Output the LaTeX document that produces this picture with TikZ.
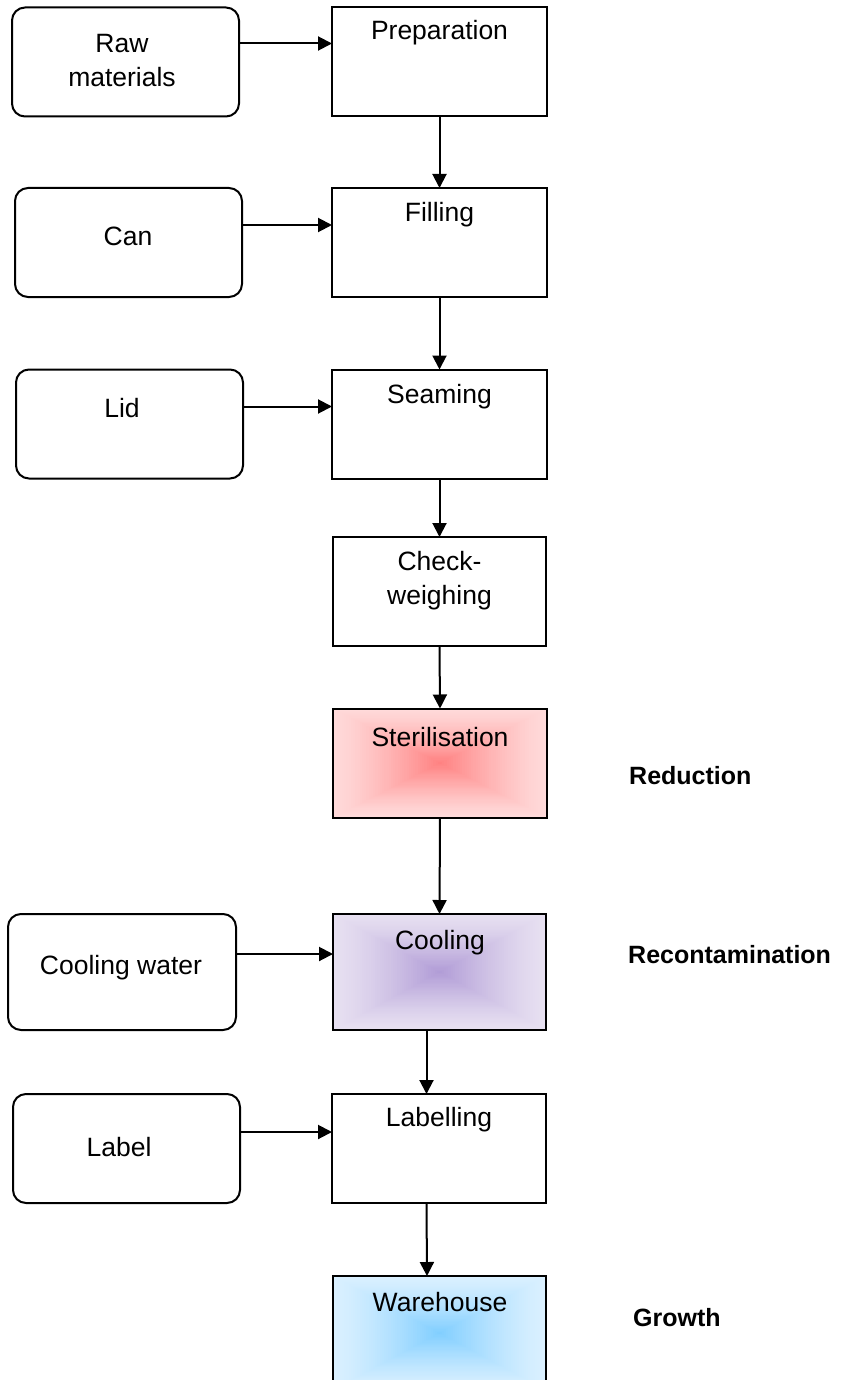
\documentclass[tikz,border=0pt]{standalone}
\usepackage{fontspec}
\setmainfont{Liberation Sans}
\usetikzlibrary{arrows.meta,calc,backgrounds}
\begin{document}
\begin{tikzpicture}[x=1pt,y=-1pt,
  proc/.style={draw=black,line width=2pt,inner sep=0pt,outer sep=0pt,minimum width=214pt,minimum height=109pt},
  inbox/.style={draw=black,line width=2pt,inner sep=0pt,outer sep=0pt,rounded corners=13pt,minimum width=227pt,minimum height=109pt},
  txt/.style={inner sep=0pt,font=\fontsize{26.5}{34}\selectfont,align=center},
  side/.style={inner sep=0pt,anchor=west,font=\fontsize{25}{30}\selectfont\bfseries},
  arr/.style={line width=2pt,-{Triangle[length=14pt,width=14pt]}}]
\useasboundingbox (0,0) rectangle (845,1380);
\clip (0,0) rectangle (845,1380);
% colours
\definecolor{redin}{HTML}{FF8080}
\definecolor{redout}{HTML}{FFDADA}
\definecolor{purin}{HTML}{B09BD6}
\definecolor{purout}{HTML}{E7E0F1}
\definecolor{bluin}{HTML}{80CEFF}
\definecolor{bluout}{HTML}{DAF0FF}
% input boxes
\node[inbox] (raw) at (125.5,62) {};
\node[txt] (rawt) at (122,61) {Raw\\materials};
\node[inbox] (can) at (128.5,242.5) {};
\node[txt] (cant) at (128,236) {Can};
\node[inbox] (lid) at (129.5,424) {};
\node[txt] (lidt) at (122,408) {Lid};
\node[inbox,minimum width=228pt,minimum height=116pt] (cw) at (122,972) {};
\node[txt] (cwt) at (121,968) {Cooling water};
\node[inbox] (lab) at (126.5,1148.5) {};
\node[txt] (labt) at (119,1147) {Label};
% process boxes
\node[proc,minimum width=215pt] (prep) at (439.5,62) {};
\node[txt] (prept) at (439.5,33) {Preparation};
\node[proc,minimum width=215pt] (fill) at (439.5,242.5) {};
\node[txt] (fillt) at (439.5,215) {Filling};
\node[proc,minimum width=215pt] (seam) at (439.5,424) {};
\node[txt] (seamt) at (439.5,397) {Seaming};
\node[proc,minimum width=213pt] (chk) at (439.5,591.5) {};
\node[txt] (chkt) at (439.5,581) {Check-\\weighing};
\node[proc] (ster) at (440,763) {};
\node[proc,minimum width=213pt,minimum height=116pt] (cool) at (439.5,972) {};
\node[proc] (lbl) at (439,1148.5) {};
\node[proc,minimum width=213pt,minimum height=114pt] (ware) at (439.5,1333) {};
% gradients
\begin{pgfonlayer}{background}
\foreach \n/\ci/\co in {ster/redin/redout,cool/purin/purout,ware/bluin/bluout}{
  \foreach \i in {0,...,48}{
    \pgfmathsetmacro\f{1-\i/48}
    \pgfmathsetmacro\p{100*(\i/48)^1.3}
    \fill[\ci!\p!\co] ($(\n.center)!\f!(\n.north west)$) rectangle ($(\n.center)!\f!(\n.south east)$);
  }
}
\end{pgfonlayer}
\node[txt] (stert) at (440,737) {Sterilisation};
\node[txt] (coolt) at (440,943) {Cooling};
\node[txt] (lblt) at (439,1120) {Labelling};
\node[txt] (waret) at (440,1302) {Warehouse};
% side labels
\node[side] (red) at (629,776) {Reduction};
\node[side] (rec) at (628,955) {Recontamination};
\node[side] (gro) at (633,1318) {Growth};
% horizontal arrows
\draw[arr] ([yshift=-36pt]raw.north east) -- ([yshift=-36pt]prep.north west);
\draw[arr] ([yshift=-37pt]can.north east) -- ([yshift=-37pt]fill.north west);
\draw[arr] ([yshift=-37pt]lid.north east) -- ([yshift=-37pt]seam.north west);
\draw[arr] ([yshift=-40pt]cw.north east) -- ([yshift=-40pt]cool.north west);
\draw[arr] ([yshift=-38pt]lab.north east) -- ([yshift=-38pt]lbl.north west);
% vertical arrows
\draw[arr] (prep.south) -- (fill.north);
\draw[arr] (fill.south) -- (seam.north);
\draw[arr] (seam.south) -- (chk.north);
\draw[arr] (chk.south) -- (ster.north);
\draw[arr] (ster.south) -- (cool.north);
\draw[arr] ([xshift=-13pt]cool.south) -- ([xshift=-12.5pt]lbl.north);
\draw[arr] ([xshift=-12.5pt]lbl.south) -- ([xshift=-12.5pt]ware.north);
\end{tikzpicture}
\end{document}
